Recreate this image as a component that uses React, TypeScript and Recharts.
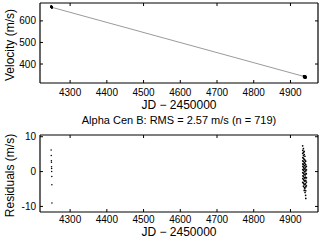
import React from "react";
import { ScatterChart, Scatter, XAxis, YAxis } from "recharts";

// tick labels
const jdTicks = [4300, 4400, 4500, 4600, 4700, 4800, 4900];
const velTicks = [400, 500, 600];
const resTicks = [-10, 0, 10];

// first epoch (JD - 2450000 ~ 4249)
const earlyJd = [4248.3, 4248.7, 4249.0, 4249.2, 4249.4, 4249.6, 4249.8, 4250.1, 4250.3, 4250.5];
const earlyRes = [6.2, 4.6, 3.1, 2.7, 1.4, 0.9, 0.0, -1.4, -3.8, -9.0];
const earlyVel = [667.5, 666.8, 666.0, 665.6, 664.9, 664.4, 663.8, 663.0, 662.1, 660.4];

// second epoch (~4933 - 4944)
const lateJd = [
  4933.2, 4933.5, 4933.4, 4933.7, 4933.3, 4933.6, 4933.8, 4933.4, 4933.5, 4933.9, 4933.6, 4933.3,
  4935.3, 4935.6, 4935.4, 4935.7, 4935.5, 4935.2, 4935.8, 4935.4, 4935.6, 4935.3, 4935.7, 4935.5, 4935.4,
  4937.4, 4937.6, 4937.3, 4937.7, 4937.5, 4937.2, 4937.8, 4937.4, 4937.6, 4937.5, 4937.3, 4937.7, 4937.5,
  4939.4, 4939.6, 4939.3, 4939.7, 4939.5, 4939.2, 4939.8, 4939.4, 4939.6, 4939.5, 4939.3, 4939.7,
  4941.4, 4941.6, 4941.3, 4941.7, 4941.5, 4941.2, 4941.8, 4941.4, 4941.6, 4941.5, 4941.3, 4941.7,
  4943.4, 4943.6, 4943.3, 4943.7, 4943.5, 4943.4,
];
const lateRes = [
  7.4, 6.1, 5.2, 4.0, 3.1, 2.2, 1.5, 0.6, -0.3, -1.2, -2.0, -3.1,
  6.6, 5.5, 4.6, 3.8, 2.9, 2.1, 1.2, 0.4, -0.5, -1.4, -2.3, -3.3, -4.2,
  5.8, 4.9, 3.5, 2.6, 1.8, 0.9, 0.1, -0.8, -1.7, -2.6, -3.6, -4.6, -5.4,
  4.4, 3.3, 2.4, 1.6, 0.7, -0.1, -1.0, -1.9, -2.8, -3.8, -4.9, -6.0,
  3.0, 2.0, 1.1, 0.2, -0.7, -1.6, -2.5, -3.5, -4.4, -5.5, -6.8, -7.7,
  1.5, 0.5, -0.6, -1.8, -3.0, -4.1,
];
const lateVelJd = [
  4936.3, 4936.6, 4936.8, 4937.4, 4937.6, 4937.3, 4938.5, 4938.3, 4938.7, 4939.4,
  4939.6, 4939.5, 4940.4, 4940.6, 4940.3, 4941.5, 4941.4, 4941.7,
];
const lateVel = [
  344.5, 341.0, 338.2, 343.8, 340.1, 337.6, 343.9, 340.0, 337.8, 343.2,
  339.4, 336.9, 342.7, 339.1, 336.6, 341.8, 338.0, 336.2,
];

// fitted trend line
const fitJd = [4248, 4944];
const fitVel = [664, 339];

const toPts = (xs: number[], ys: number[]) => xs.map((x, i) => ({ x, y: ys[i] }));

const font = "'Liberation Sans', Arial, Helvetica, sans-serif";
const tickStyle = { fontSize: 10, fill: "#000", fontFamily: font };
const axisLine = { stroke: "#000", strokeWidth: 1.2 };
const tickLine = { stroke: "#000", strokeWidth: 1 };
const jdDomain = [4218, 4975];

const dot = (r: number) => (p: any) => <circle cx={p.cx} cy={p.cy} r={r} fill="#000" />;
const noDot = () => <g />;

interface PanelProps {
  height: number;
  marginTop: number;
  xAxisHeight: number;
  xTickMargin: number;
  yDomain: number[];
  yTicks: number[];
  yLabel: string;
  xLabelY: number;
  title?: string;
  children: React.ReactNode;
}

const Panel = (p: PanelProps) => (
  <ScatterChart
    width={321}
    height={p.height}
    margin={{ top: p.marginTop, right: 2, bottom: 0, left: 0 }}
  >
    <XAxis
      xAxisId="b"
      dataKey="x"
      type="number"
      domain={jdDomain}
      ticks={jdTicks}
      allowDataOverflow
      height={p.xAxisHeight}
      tickSize={-3}
      tickMargin={p.xTickMargin}
      tick={tickStyle}
      axisLine={axisLine}
      tickLine={tickLine}
      label={{
        content: (lp: any) => {
          const vb = lp.viewBox;
          return (
            <text
              x={vb.x + vb.width / 2}
              y={p.xLabelY}
              textAnchor="middle"
              dominantBaseline="central"
              fontSize={12}
              fontFamily={font}
              fill="#000"
            >
              JD − 2450000
            </text>
          );
        },
      }}
    />
    <XAxis
      xAxisId="t"
      orientation="top"
      dataKey="x"
      type="number"
      domain={jdDomain}
      ticks={jdTicks}
      allowDataOverflow
      height={1}
      tickSize={-3}
      tick={() => <g />}
      axisLine={axisLine}
      tickLine={tickLine}
      label={
        p.title
          ? {
              content: (lp: any) => {
                const vb = lp.viewBox;
                return (
                  <text
                    x={vb.x + vb.width / 2}
                    y={4.5}
                    textAnchor="middle"
                    dominantBaseline="central"
                    fontSize={11}
                    fontFamily={font}
                    fill="#000"
                  >
                    {p.title}
                  </text>
                );
              },
            }
          : undefined
      }
    />
    <YAxis
      yAxisId="l"
      dataKey="y"
      type="number"
      domain={p.yDomain}
      ticks={p.yTicks}
      allowDataOverflow
      width={40}
      tickSize={-3}
      tickMargin={7}
      tick={tickStyle}
      axisLine={axisLine}
      tickLine={tickLine}
      label={{
        content: (lp: any) => {
          const vb = lp.viewBox;
          const cx = 10;
          const cy = vb.y + vb.height / 2 + 2;
          return (
            <text
              x={cx}
              y={cy}
              transform={`rotate(-90 ${cx} ${cy})`}
              textAnchor="middle"
              dominantBaseline="central"
              fontSize={12}
              fontFamily={font}
              fill="#000"
            >
              {p.yLabel}
            </text>
          );
        },
      }}
    />
    <YAxis
      yAxisId="r"
      orientation="right"
      dataKey="y"
      type="number"
      domain={p.yDomain}
      ticks={p.yTicks}
      allowDataOverflow
      width={1}
      tickSize={-3}
      tick={() => <g />}
      axisLine={axisLine}
      tickLine={tickLine}
    />
    {/* hidden series so the top and right axes are drawn */}
    <Scatter
      xAxisId="t"
      yAxisId="r"
      data={toPts(fitJd, [p.yDomain[0], p.yDomain[0]])}
      shape={noDot}
      isAnimationActive={false}
    />
    {p.children}
  </ScatterChart>
);

export default function App() {
  return (
    <div style={{ position: "absolute", left: 0, top: 0, width: 321, height: 241, background: "#fff" }}>
      <div style={{ position: "absolute", left: 0, top: 0 }}>
        <Panel
          height={115}
          marginTop={2}
          xAxisHeight={32}
          xTickMargin={9}
          yDomain={[312, 683]}
          yTicks={velTicks}
          yLabel="Velocity (m/s)"
          xLabelY={105}
        >
          <Scatter
            xAxisId="b"
            yAxisId="l"
            data={toPts(fitJd, fitVel)}
            line={{ stroke: "#808080", strokeWidth: 0.8 }}
            shape={noDot}
            isAnimationActive={false}
          />
          <Scatter xAxisId="b" yAxisId="l" data={toPts(earlyJd, earlyVel)} shape={dot(1.1)} isAnimationActive={false} />
          <Scatter xAxisId="b" yAxisId="l" data={toPts(lateVelJd, lateVel)} shape={dot(1.1)} isAnimationActive={false} />
        </Panel>
      </div>
      <div style={{ position: "absolute", left: 0, top: 115 }}>
        <Panel
          height={126}
          marginTop={19}
          xAxisHeight={29}
          xTickMargin={6.5}
          yDomain={[-11.6, 10.5]}
          yTicks={resTicks}
          yLabel="Residuals (m/s)"
          xLabelY={117}
          title="Alpha Cen B: RMS = 2.57 m/s (n = 719)"
        >
          <Scatter xAxisId="b" yAxisId="l" data={toPts(earlyJd, earlyRes)} shape={dot(0.75)} isAnimationActive={false} />
          <Scatter xAxisId="b" yAxisId="l" data={toPts(lateJd, lateRes)} shape={dot(0.85)} isAnimationActive={false} />
        </Panel>
      </div>
    </div>
  );
}
